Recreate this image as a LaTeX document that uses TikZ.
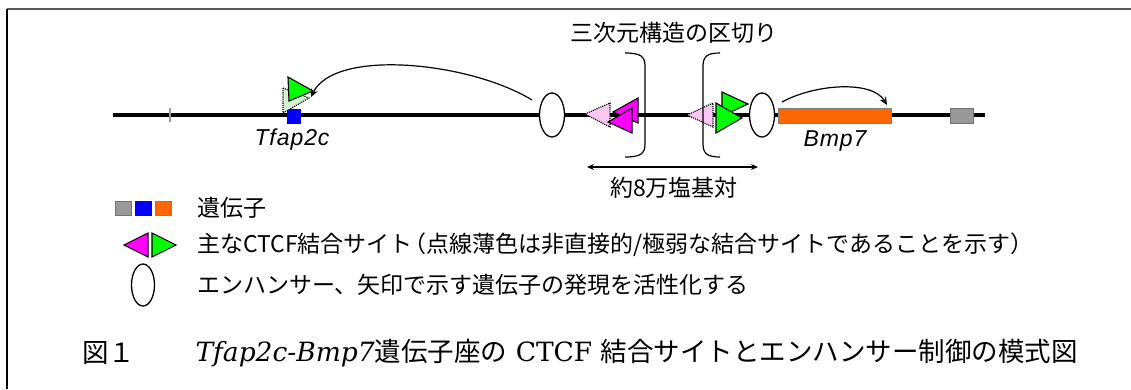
\documentclass[tikz,border=0pt]{standalone}
\usepackage{fontspec}
\setmainfont{DejaVu Serif}
\newfontfamily\jp{Noto Sans CJK JP}
\newfontfamily\lsans{Liberation Sans}
\usetikzlibrary{arrows.meta,shapes.geometric}
\definecolor{mag}{HTML}{FF00FF}
\definecolor{grn}{HTML}{00FF00}
\definecolor{palepink}{HTML}{F8C8F2}
\definecolor{palegreen}{HTML}{D2F2D2}
\definecolor{genegray}{HTML}{999999}
\definecolor{geneorange}{HTML}{FF6600}
\definecolor{geneblue}{HTML}{0000FF}
\begin{document}
\begin{tikzpicture}[x=1pt,y=-1pt,
  chrom/.style={line width=3.5pt,black},
  ctcfm/.style={draw=black,line width=1.1pt,fill=mag,line join=miter},
  ctcfg/.style={draw=black,line width=1.1pt,fill=grn,line join=miter},
  weakm/.style={draw=black,densely dotted,line width=1.1pt,fill=palepink},
  weakg/.style={draw=black,densely dotted,line width=1.1pt,fill=palegreen},
  enh/.style={draw=black,line width=1.3pt,fill=white,ellipse,minimum width=25pt,minimum height=44pt,inner sep=0pt},
  loopar/.style={-{Stealth[length=8pt,width=7pt]},line width=1.2pt},
  brk/.style={line width=1.2pt},
  jtext/.style={font=\jp\fontsize{23}{23}\selectfont,inner sep=0pt},
  glabel/.style={font=\lsans\itshape\fontsize{23}{23}\selectfont\addfontfeature{LetterSpace=4},inner sep=0pt},
  capt/.style={font=\fontsize{26.5}{26.5}\selectfont,inner sep=0pt},
  genebox/.style={line width=0.6pt}
]
\useasboundingbox (0,0) rectangle (1131,389);
% frame
\draw[line width=1.5pt,black!65] (7,9) -- (1131,9);
\draw[line width=1.3pt,black] (7,9) -- (7,389);

% chromosome
\coordinate (cl) at (113,115);
\coordinate (cr) at (985,115);
\draw[chrom] (cl) -- (cr);
\draw[line width=1.3pt,genegray] (170,108) -- (170,122);

% genes
\node[genebox,draw=geneblue,fill=geneblue,minimum width=13pt,minimum height=14pt,inner sep=0pt] (tf) at (293.5,116) {};
\node[genebox,draw=black!50,fill=geneorange,minimum width=113pt,minimum height=15pt,inner sep=0pt] (bm) at (834.5,115.5) {};
\node[genebox,draw=black!55,fill=genegray,minimum width=23pt,minimum height=15pt,inner sep=0pt] (gg) at (961.5,115.5) {};
\node[glabel] (tfl) at (292,140) {Tfap2c};
\node[glabel] (bml) at (835,141) {Bmp7};

% Tfap2c CTCF
\draw[weakg] (283,88) -- (283,113) -- (309,98) -- cycle;
\draw[ctcfg] (288,77) -- (289,101) -- (313,91) -- cycle;
\coordinate (t1) at (311,97);

% enhancers
\node[enh] (e1) at (552,115) {};
\node[enh] (e2) at (762,115) {};

% left boundary CTCF (magenta)
\draw[weakm] (585,114) -- (610,103) -- (610,127) -- cycle;
\draw[ctcfm] (613,112) -- (638,98) -- (638,123) -- cycle;
\draw[ctcfm] (608,122) -- (632,108) -- (632,133) -- cycle;

% right boundary CTCF (green)
\draw[weakm] (687,115) -- (713,103) -- (713,127) -- cycle;
\draw[ctcfg] (722,92) -- (722,116) -- (748,104) -- cycle;
\draw[ctcfg] (716,103) -- (716,133) -- (742,118) -- cycle;

% brackets
\draw[brk] (625,53) .. controls (640,53) and (645,56) .. (645,66) -- (645,144) .. controls (645,154) and (640,157) .. (625,157);
\draw[brk] (720,53) .. controls (708,53) and (703,56) .. (703,66) -- (703,144) .. controls (703,154) and (708,157) .. (720,157);

% loops
\coordinate (s1) at (532,100);
\coordinate (s2) at (782,102);
\coordinate (t2) at (887,105);
\draw[loopar] (s1) .. controls (470,62) and (335,48) .. (t1);
\draw[loopar] (s2) .. controls (815,84) and (872,80) .. (t2);

% distance
\coordinate (d1) at (587,167);
\coordinate (d2) at (758,167);
\draw[{Stealth[length=7pt,width=6pt]}-{Stealth[length=7pt,width=6pt]},line width=1.2pt] (d1) -- (d2);
\node[jtext] (dist) at (674,188) {約8万塩基対};
\node[jtext] (bound) at (674,33) {三次元構造の区切り};

% legend
\node[genebox,draw=black!55,fill=genegray,minimum width=16pt,minimum height=14pt,inner sep=0pt] (lg1) at (123,208) {};
\node[genebox,draw=geneblue,fill=geneblue,minimum width=16pt,minimum height=14pt,inner sep=0pt] (lg2) at (143,208) {};
\node[genebox,draw=black!50,fill=geneorange,minimum width=16pt,minimum height=14pt,inner sep=0pt] (lg3) at (163,208) {};
\node[jtext,anchor=west] (lt1) at (197,208) {遺伝子};

\draw[ctcfm] (124,245) -- (148,233) -- (148,257) -- cycle;
\draw[ctcfg] (152,233) -- (152,257) -- (176,245) -- cycle;
\node[jtext,anchor=west] (lt2) at (197,245) {主なCTCF結合サイト\hspace{-0.4em}（点線薄色は非直接的/極弱な結合サイトであることを示す）};

\node[enh,minimum width=23pt,minimum height=42pt] (le) at (143,285) {};
\node[jtext,anchor=west] (lt3) at (197,285) {エンハンサー、矢印で示す遺伝子の発現を活性化する};

% caption
\node[capt,anchor=west] (c1) at (82,353) {\jp 図１};
\node[capt,anchor=east] (c2) at (1078,353) {\textit{Tfap2c-Bmp7}{\jp 遺伝子座の} CTCF {\jp 結合サイトとエンハンサー制御の模式図}};
\end{tikzpicture}
\end{document}
